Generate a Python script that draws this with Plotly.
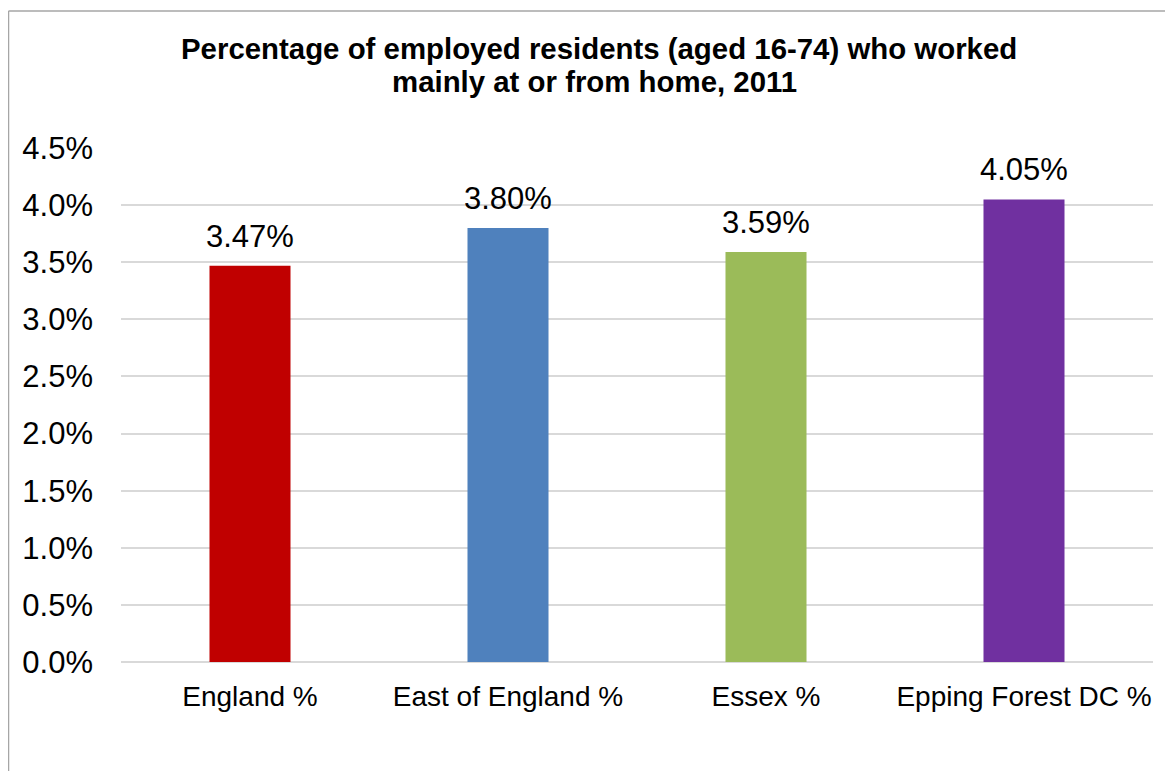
import plotly.graph_objects as go

categories = ["England %", "East of England %", "Essex %", "Epping Forest DC %"]
values = [3.47, 3.80, 3.59, 4.05]
labels = ["3.47%", "3.80%", "3.59%", "4.05%"]
colors = ["#C00000", "#4F81BD", "#9BBB59", "#7030A0"]
tick_vals = [0, 0.5, 1.0, 1.5, 2.0, 2.5, 3.0, 3.5, 4.0, 4.5]
tick_text = ["0.0%", "0.5%", "1.0%", "1.5%", "2.0%", "2.5%", "3.0%", "3.5%", "4.0%", "4.5%"]
title_lines = ["Percentage of employed residents (aged 16-74) who worked",
               "mainly at or from home, 2011"]

FONT = "Liberation Sans, Arial, sans-serif"

fig = go.Figure()
fig.add_trace(go.Bar(
    x=categories, y=values, marker=dict(color=colors, line=dict(width=0)),
    width=0.314, hoverinfo="skip",
))

for c, v, t in zip(categories, values, labels):
    fig.add_annotation(x=c, y=v, text=t, showarrow=False, yanchor="bottom",
                       yshift=10, font=dict(family=FONT, size=31, color="#000000"))

# title as two lines
for txt, xp, yp in zip(title_lines, [0.4627, 0.4593], [1.1936, 1.1294]):
    fig.add_annotation(xref="paper", yref="paper", x=xp, y=yp, text="<b>" + txt + "</b>",
                       showarrow=False, xanchor="center", yanchor="middle",
                       font=dict(family=FONT, size=29.4, color="#000000"))

# chart frame (left and top edges visible)
fig.add_shape(type="line", xref="paper", yref="paper", x0=-0.1090, x1=-0.1090,
              y0=-0.3, y1=1.2665, line=dict(color="#A6A6A6", width=1.5))
fig.add_shape(type="line", xref="paper", yref="paper", x0=-0.1090, x1=1.1,
              y0=1.2665, y1=1.2665, line=dict(color="#A6A6A6", width=1.5))

fig.update_layout(
    width=1173, height=771,
    paper_bgcolor="white", plot_bgcolor="white",
    margin=dict(l=113, r=28, t=140, b=117),
    showlegend=False,
    font=dict(family=FONT, color="#000000"),
    bargap=0.686,
)
fig.update_yaxes(range=[0, 4.5], tickvals=tick_vals, ticktext=tick_text,
                 showgrid=True, gridcolor="#D9D9D9", gridwidth=1.5,
                 zeroline=True, zerolinecolor="#D9D9D9", zerolinewidth=1.5,
                 showline=False, ticks="", ticklabelstandoff=27,
                 tickfont=dict(family=FONT, size=31, color="#000000"))
fig.update_xaxes(showline=False, ticks="", ticklabelstandoff=15,
                 tickfont=dict(family=FONT, size=28, color="#000000"))

fig.write_html("out.html")
